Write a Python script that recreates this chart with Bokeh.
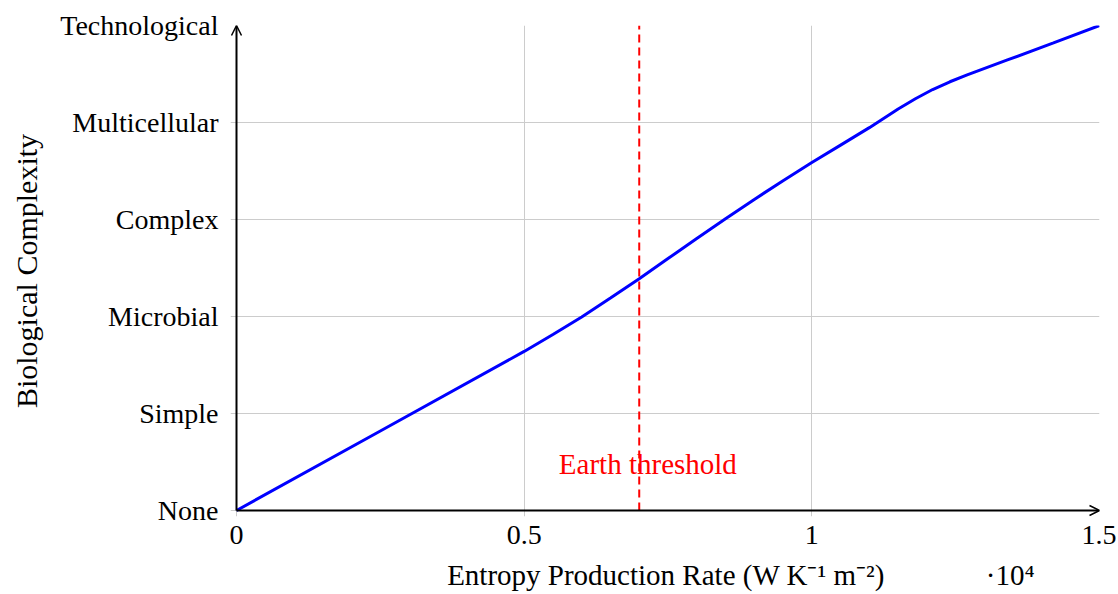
from bokeh.plotting import figure
from bokeh.models import Range1d, FixedTicker, Arrow, OpenHead, Label
from bokeh.embed import file_html
from bokeh.resources import INLINE

# data
entropy_rate = [0, 2500, 5000, 5500, 6000, 6500, 7000, 7500, 8000, 8500, 9000, 9500,
                10000, 10500, 11000, 11500, 11800, 12100, 12400, 12700, 13400, 14200, 15000]
complexity = [0, 0.82, 1.64, 1.815, 1.995, 2.19, 2.39, 2.597, 2.804, 3.008, 3.207, 3.4,
              3.587, 3.767, 3.947, 4.14, 4.245, 4.34, 4.42, 4.49, 4.645, 4.82, 5.0]
level_ticks = [0, 1, 2, 3, 4, 5]
level_labels = ["None", "Simple", "Microbial", "Complex", "Multicellular", "Technological"]
x_ticks = [0, 5000, 10000, 15000]
x_tick_labels = ["0", "0.5", "1", "1.5"]
earth_threshold = 7000
x_title = "Entropy Production Rate (W K⁻¹ m⁻²)"
x_scale_note = "·10⁴"
y_title = "Biological Complexity"

FONT = "Liberation Serif"
EM, EN, QUARTER = "\u2003", "\u2002", "\u2005"

p = figure(width=1116, height=594, output_backend="svg", toolbar_location=None,
           x_range=Range1d(-104.3, 15000), y_range=Range1d(-0.0619, 5),
           min_border_left=230, min_border_right=17, min_border_top=25, min_border_bottom=78)
p.outline_line_color = None
p.background_fill_color = "white"
p.border_fill_color = "white"

for ax in (p.xaxis[0], p.yaxis[0]):
    ax.axis_line_color = None
    ax.major_tick_line_color = None
    ax.major_tick_in = 0
    ax.major_tick_out = 0
    ax.minor_tick_line_color = None
    ax.major_label_text_font = FONT
    ax.major_label_text_font_size = "28px"
    ax.major_label_text_color = "black"
    ax.axis_label_text_font = FONT
    ax.axis_label_text_font_style = "normal"
    ax.axis_label_text_color = "black"

p.xaxis.ticker = FixedTicker(ticks=x_ticks)
p.xaxis.major_label_overrides = {t: l for t, l in zip(x_ticks, x_tick_labels)}
p.xaxis.major_label_standoff = 9
p.xaxis.axis_label = EM * 5 + QUARTER + x_title + EM * 3 + EN + x_scale_note
p.xaxis.axis_label_text_font_size = "29px"
p.xaxis.axis_label_standoff = 12

p.yaxis.ticker = FixedTicker(ticks=level_ticks)
p.yaxis.major_label_overrides = {t: l for t, l in zip(level_ticks, level_labels)}
p.yaxis.major_label_standoff = 12
p.yaxis.axis_label = y_title
p.yaxis.axis_label_text_font_size = "30px"
p.yaxis.axis_label_standoff = 14

p.xgrid.ticker = FixedTicker(ticks=x_ticks)
p.ygrid.ticker = FixedTicker(ticks=level_ticks)
for g in (p.xgrid[0], p.ygrid[0]):
    g.grid_line_color = "#cccccc"
    g.grid_line_width = 1

# threshold line
p.line([earth_threshold, earth_threshold], [0, 5], line_color="#ff0000",
       line_width=2, line_dash="8 5")

# curve
p.line(entropy_rate, complexity, line_color="#0000ff", line_width=3)

# axis arrows
p.add_layout(Arrow(end=OpenHead(size=10, line_width=1.5, line_color="black"),
                   x_start=0, y_start=0, x_end=15000, y_end=0,
                   line_color="black", line_width=2))
p.add_layout(Arrow(end=OpenHead(size=10, line_width=1.5, line_color="black"),
                   x_start=0, y_start=0, x_end=0, y_end=5,
                   line_color="black", line_width=2))

p.add_layout(Label(x=7150, y=0.48, text="Earth threshold", text_color="#ff0000",
                   text_font=FONT, text_font_size="29px",
                   text_align="center", text_baseline="middle"))

open("out.html", "w").write(file_html(p, INLINE))
